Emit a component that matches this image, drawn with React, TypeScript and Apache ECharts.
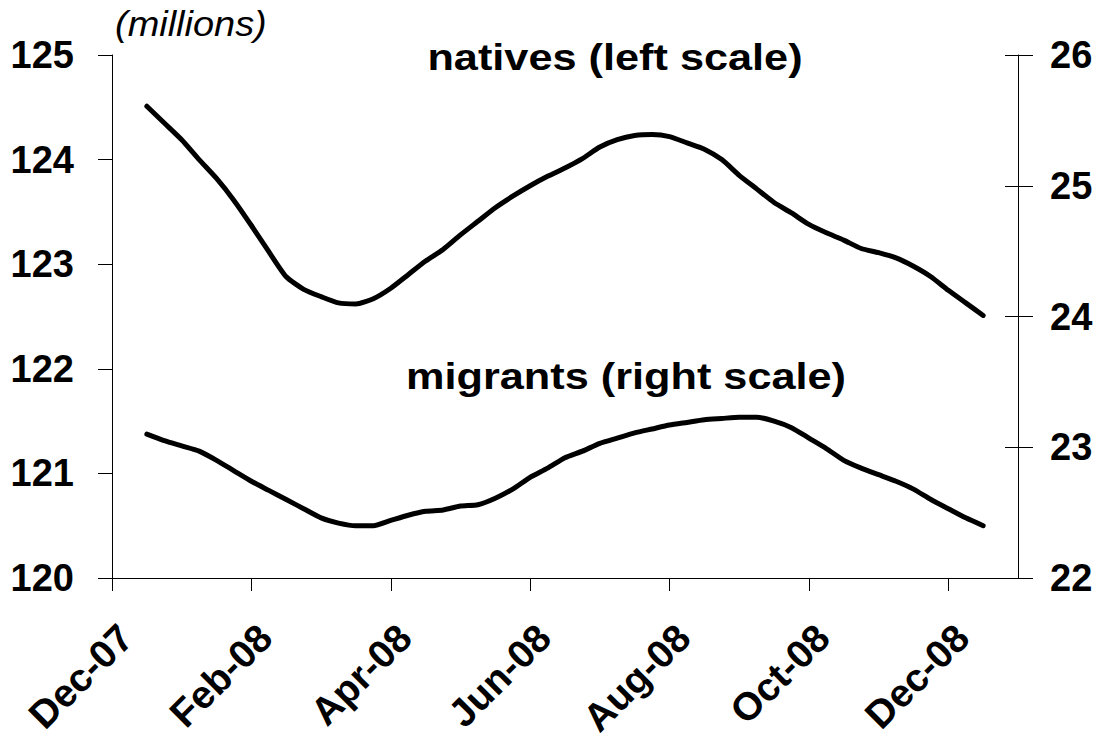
import React, { useEffect, useRef } from "react";
import * as echarts from "echarts";

// month offsets from 1 Dec 2007; ticks every two months
const tickMonths = [0, 2, 4, 6, 8, 10, 12];
// label anchors sit just after each tick (as in the original layout)
const labelMonths = [0.2, 2.2, 4.2, 6.2, 8.2, 10.2, 12.2];
const monthLabels = ["Dec-07", "Feb-08", "Apr-08", "Jun-08", "Aug-08", "Oct-08", "Dec-08"];

// weekly observations starting mid-Dec 2007 (position in months)
const startMonth = 0.5;
const weekStep = 0.25;

// natives, millions (left scale)
const natives = [
  124.51, 124.35, 124.19, 124.0, 123.82, 123.61, 123.37, 123.12, 122.88, 122.76,
  122.69, 122.63, 122.62, 122.67, 122.77, 122.9, 123.03, 123.14, 123.28, 123.41,
  123.54, 123.65, 123.75, 123.84, 123.92, 124.01, 124.12, 124.19, 124.23, 124.24,
  124.22, 124.16, 124.1, 124.0, 123.85, 123.72, 123.59, 123.49, 123.38, 123.3,
  123.23, 123.15, 123.11, 123.06, 122.98, 122.88, 122.75, 122.63, 122.51,
];

// migrants, millions (right scale)
const migrants = [
  23.1, 23.05, 23.01, 22.97, 22.9, 22.82, 22.74, 22.67, 22.6, 22.53,
  22.46, 22.42, 22.4, 22.4, 22.44, 22.48, 22.51, 22.52, 22.55, 22.56,
  22.61, 22.68, 22.77, 22.84, 22.92, 22.97, 23.03, 23.07, 23.11, 23.14,
  23.17, 23.19, 23.21, 23.22, 23.23, 23.23, 23.2, 23.15, 23.07, 22.99,
  22.9, 22.84, 22.79, 22.74, 22.68, 22.6, 22.53, 22.46, 22.4,
];

const FONT = "'Liberation Sans', Arial, Helvetica, sans-serif";

export default function App() {
  const ref = useRef<HTMLDivElement>(null);

  useEffect(() => {
    if (!ref.current) return;
    const chart = echarts.init(ref.current, undefined, { renderer: "svg" });

    const toPairs = (arr: number[]) => arr.map((v, i) => [startMonth + i * weekStep, v]);

    const labelFor = (v: number) => {
      const idx = labelMonths.findIndex((m) => Math.abs(m - v) < 1e-6);
      return idx >= 0 ? monthLabels[idx] : "";
    };

    const axisLineStyle = { color: "#000", width: 1 };
    const tickLabel = {
      color: "#000",
      fontFamily: FONT,
      fontWeight: "bold" as const,
      fontSize: 38,
    };

    chart.setOption({
      animation: false,
      backgroundColor: "#fff",
      grid: {
        left: 112,
        right: 86,
        top: 55,
        bottom: 164,
        containLabel: false,
        outerBoundsMode: "none",
      },
      xAxis: {
        type: "value",
        min: 0,
        max: 13,
        axisLine: { show: true, lineStyle: axisLineStyle },
        axisTick: { show: true, customValues: tickMonths, length: 13, lineStyle: axisLineStyle },
        axisLabel: {
          ...tickLabel,
          fontSize: 39,
          customValues: labelMonths,
          rotate: 45,
          margin: 53,
          formatter: (v: number) => labelFor(v),
        },
        splitLine: { show: false },
      },
      yAxis: [
        {
          type: "value",
          position: "left",
          min: 120,
          max: 125,
          interval: 1,
          axisLine: { show: true, lineStyle: axisLineStyle },
          axisTick: { show: true, length: 14, lineStyle: axisLineStyle },
          axisLabel: { ...tickLabel, margin: 38 },
          splitLine: { show: false },
        },
        {
          type: "value",
          position: "right",
          min: 22,
          max: 26,
          interval: 1,
          axisLine: { show: true, lineStyle: axisLineStyle },
          axisTick: { show: true, length: 15, lineStyle: axisLineStyle },
          axisLabel: { ...tickLabel, margin: 32 },
          splitLine: { show: false },
        },
        {
          type: "value",
          position: "right",
          min: 22,
          max: 26,
          interval: 1,
          axisLine: { show: false },
          axisTick: { show: true, inside: true, length: 13, lineStyle: axisLineStyle },
          axisLabel: { show: false },
          splitLine: { show: false },
        },
      ],
      series: [
        {
          name: "natives (left scale)",
          type: "line",
          yAxisIndex: 0,
          data: toPairs(natives),
          showSymbol: false,
          smooth: 0.2,
          lineStyle: { color: "#000", width: 5, cap: "round", join: "round" },
        },
        {
          name: "migrants (right scale)",
          type: "line",
          yAxisIndex: 1,
          data: toPairs(migrants),
          showSymbol: false,
          smooth: 0.2,
          lineStyle: { color: "#000", width: 5, cap: "round", join: "round" },
        },
      ],
      graphic: [
        {
          type: "text",
          x: 115,
          y: 7,
          scaleX: 1.1,
          style: {
            text: "(millions)",
            fontFamily: FONT,
            fontStyle: "italic",
            fontSize: 34.5,
            fill: "#000",
          },
        },
        {
          type: "text",
          x: 615,
          y: 58,
          scaleX: 1.17,
          style: {
            text: "natives (left scale)",
            fontFamily: FONT,
            fontWeight: "bold",
            fontSize: 37,
            fill: "#000",
            align: "center",
            verticalAlign: "middle",
          },
        },
        {
          type: "text",
          x: 626,
          y: 377,
          scaleX: 1.17,
          style: {
            text: "migrants (right scale)",
            fontFamily: FONT,
            fontWeight: "bold",
            fontSize: 37,
            fill: "#000",
            align: "center",
            verticalAlign: "middle",
          },
        },
      ],
    });

    return () => chart.dispose();
  }, []);

  return (
    <div
      ref={ref}
      style={{ position: "absolute", left: 0, top: 0, width: 1104, height: 742, background: "#fff" }}
    />
  );
}
